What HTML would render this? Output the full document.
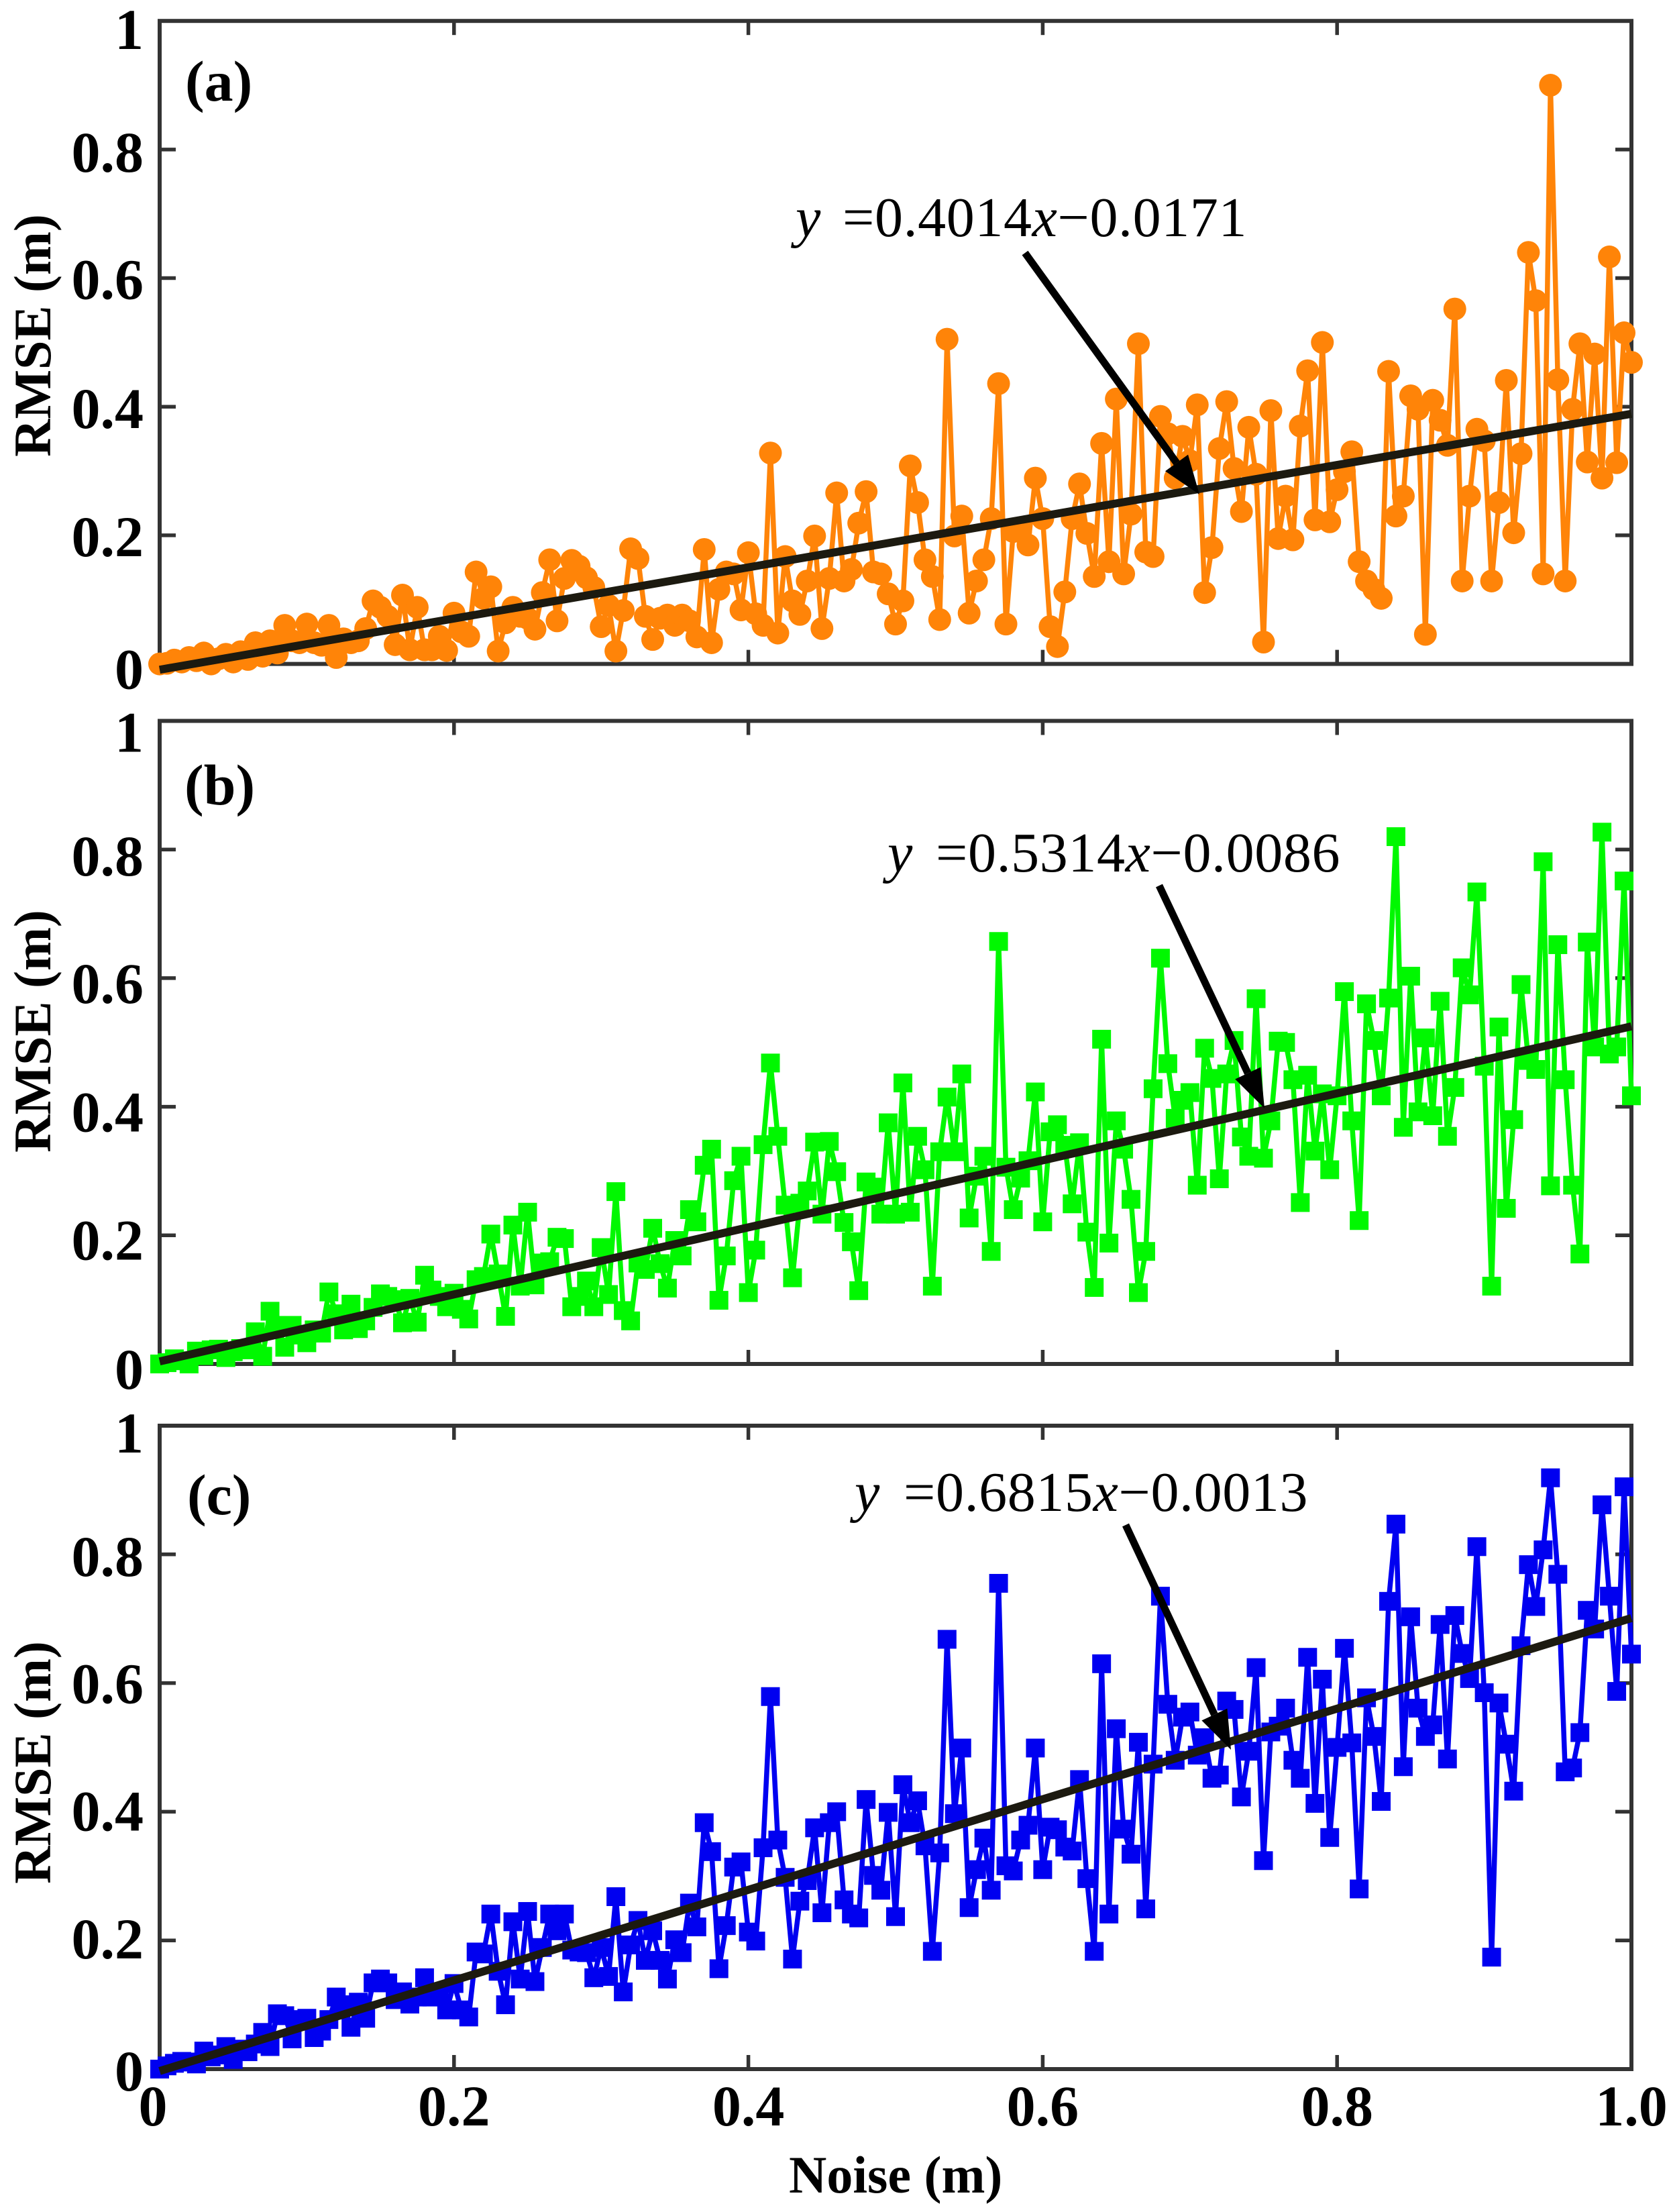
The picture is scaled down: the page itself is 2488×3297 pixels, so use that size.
<!DOCTYPE html>
<html>
<head>
<meta charset="utf-8">
<title>RMSE vs Noise</title>
<style>
html,body{margin:0;padding:0;background:#fff;width:2488px;height:3297px;overflow:hidden}
svg{display:block}
text{font-family:"Liberation Serif",serif;fill:#000}
.b{font-weight:bold}
</style>
</head>
<body>
<svg id="figure" xmlns="http://www.w3.org/2000/svg" width="2488" height="3297" viewBox="0 0 2488 3297"></svg>
<script>
const noiseStep = 0.005;
const xTicks = [0, 0.2, 0.4, 0.6, 0.8, 1.0];
const xTickLabels = ["0", "0.2", "0.4", "0.6", "0.8", "1.0"];
const yTicks = [0, 0.2, 0.4, 0.6, 0.8, 1];
const yTickLabels = ["0", "0.2", "0.4", "0.6", "0.8", "1"];

const rmseA = [
0,.001,.006,.003,.010,.005,.017,0,.008,.015,.003,.019,.007,.033,.012,.036,.017,.060,.036,.033,
.062,.033,.029,.060,.010,.039,.033,.036,.055,.098,.088,.074,.030,.107,.022,.088,.022,.022,.043,.021,
.079,.050,.043,.143,.102,.120,.020,.064,.088,.074,.071,.054,.111,.162,.067,.133,.161,.152,.134,.119,
.058,.091,.020,.083,.179,.164,.074,.038,.071,.076,.060,.076,.067,.042,.178,.033,.116,.143,.140,.084,
.173,.078,.060,.328,.048,.167,.098,.077,.129,.199,.055,.133,.266,.129,.147,.219,.268,.143,.140,.109,
.062,.098,.308,.251,.162,.136,.069,.505,.199,.230,.079,.129,.162,.226,.436,.062,.206,.206,.185,.289,
.226,.058,.027,.112,.226,.280,.203,.136,.343,.159,.412,.140,.233,.498,.174,.167,.385,.358,.289,.354,
.316,.403,.111,.181,.335,.408,.304,.237,.368,.295,.034,.394,.195,.261,.193,.370,.456,.224,.500,.221,
.271,.299,.330,.159,.129,.116,.102,.455,.230,.261,.417,.396,.046,.410,.379,.340,.552,.129,.261,.365,
.347,.129,.251,.441,.204,.327,.640,.565,.140,.900,.442,.129,.396,.498,.314,.482,.289,.633,.313,.515,.469];

const rmseB = [
0,.002,.008,.005,0,.020,.013,.022,.023,.010,.019,.024,.022,.050,.012,.082,.060,.026,.060,.045,
.033,.053,.048,.112,.078,.053,.093,.055,.067,.088,.109,.105,.100,.064,.102,.065,.138,.115,.105,.089,
.110,.085,.070,.131,.136,.202,.140,.074,.216,.121,.236,.123,.157,.159,.197,.195,.089,.105,.129,.089,
.181,.108,.268,.083,.067,.157,.147,.211,.156,.118,.192,.168,.240,.221,.309,.334,.099,.168,.285,.323,
.111,.177,.341,.468,.354,.247,.134,.250,.269,.345,.233,.346,.299,.220,.190,.114,.283,.275,.233,.375,
.233,.437,.236,.354,.302,.121,.330,.415,.330,.451,.227,.292,.323,.175,.657,.306,.240,.289,.316,.423,
.221,.361,.372,.340,.249,.344,.205,.119,.505,.188,.378,.334,.256,.111,.175,.428,.631,.467,.382,.410,
.422,.278,.491,.444,.288,.451,.503,.353,.323,.568,.320,.378,.502,.500,.442,.251,.449,.331,.420,.302,
.417,.579,.378,.223,.560,.503,.417,.569,.820,.368,.603,.392,.507,.386,.564,.354,.430,.616,.574,.734,
.463,.121,.524,.242,.380,.590,.472,.458,.781,.277,.652,.442,.278,.171,.656,.493,.827,.482,.493,.751,.417];

const rmseC = [
0,.005,.009,.012,.011,.008,.028,.019,.022,.035,.015,.031,.027,.039,.057,.035,.086,.083,.047,.077,
.079,.049,.059,.077,.112,.100,.065,.104,.079,.134,.140,.134,.108,.120,.101,.112,.142,.112,.120,.092,
.133,.092,.081,.182,.179,.241,.152,.100,.229,.140,.245,.136,.189,.241,.215,.241,.185,.182,.181,.142,
.189,.144,.268,.120,.193,.231,.169,.215,.169,.140,.201,.181,.258,.221,.383,.338,.156,.223,.314,.322,
.213,.199,.344,.579,.356,.298,.171,.261,.293,.375,.243,.383,.400,.263,.241,.235,.419,.301,.278,.399,
.237,.442,.383,.417,.347,.183,.336,.668,.397,.499,.251,.310,.359,.278,.755,.316,.308,.356,.379,.499,
.310,.376,.372,.345,.339,.450,.296,.183,.630,.241,.529,.373,.334,.508,.249,.474,.735,.567,.480,.547,
.555,.488,.515,.452,.457,.572,.559,.423,.494,.624,.324,.524,.533,.561,.480,.452,.640,.413,.606,.360,
.500,.654,.507,.280,.577,.517,.416,.727,.847,.470,.703,.561,.517,.535,.691,.482,.705,.646,.607,.812,
.585,.174,.569,.505,.432,.658,.784,.719,.807,.919,.769,.462,.468,.523,.713,.684,.877,.735,.587,.905,.645];

const fitEndsA = [-0.009, 0.389];
const fitEndsB = [0.004, 0.525];
const fitEndsC = [-0.003, 0.701];

const svg = document.getElementById('figure');
const NS = 'http://www.w3.org/2000/svg';
const X0 = 238, X1 = 2432;
function xScale(v){ return X0 + (X1 - X0) * v; }

function el(tag, parent, attrs, txt){
  const e = document.createElementNS(NS, tag);
  for (const k in attrs) e.setAttribute(k, attrs[k]);
  if (txt !== undefined) e.textContent = txt;
  parent.appendChild(e);
  return e;
}

const panels = [
  {id:'a', top:31.2, bottom:989.6, values:rmseA, fit:fitEndsA, color:'#ff8408', marker:'circle',
   letter:'(a)', letterX:276, letterY:150, dy:[37,31,32,31,33,42], ylabelY:500,
   eq:'=0.4014', eqTail:'\u22120.0171', eqYX:1186, eqX:1256, eqY:352,
   arrow:[1528,377,1788,737]},
  {id:'b', top:1074.5, bottom:2033, values:rmseB, fit:fitEndsB, color:'#00f800', marker:'square',
   letter:'(b)', letterX:275, letterY:1199, dy:[37,36,37,37,39,46], ylabelY:1537,
   eq:'=0.5314', eqTail:'\u22120.0086', eqYX:1323, eqX:1395, eqY:1299,
   arrow:[1728,1320,1885,1652]},
  {id:'c', top:2125, bottom:3084, values:rmseC, fit:fitEndsC, color:'#0000f0', marker:'square',
   letter:'(c)', letterX:279, letterY:2257, dy:[32,27,28,30,32,40], ylabelY:2627,
   eq:'=0.6815', eqTail:'\u22120.0013', eqYX:1274, eqX:1347, eqY:2252,
   arrow:[1678,2273,1835,2608]}
];

panels.forEach(function(p){
  const yScale = function(v){ return p.bottom - (p.bottom - p.top) * v; };
  const g = el('g', svg, {});
  
  

  const frame = el('rect', g, {x:X0, y:p.top, width:X1-X0, height:p.bottom-p.top, fill:'none', stroke:'#333', 'stroke-width':6});
  
  

  const tickGroup = el('g', g, {stroke:'#333', 'stroke-width':5.5});
  
  
  xTicks.forEach(function(t){
    if (t <= 0 || t >= 1) return;
    const x = xScale(t);
    el('line', tickGroup, {x1:x, x2:x, y1:p.top, y2:p.top+21});
    el('line', tickGroup, {x1:x, x2:x, y1:p.bottom, y2:p.bottom-21});
  });
  yTicks.forEach(function(t){
    if (t <= 0 || t >= 1) return;
    const y = yScale(t);
    el('line', tickGroup, {x1:X0, x2:X0+24, y1:y, y2:y});
    el('line', tickGroup, {x1:X1, x2:X1-24, y1:y, y2:y});
  });

  yTicks.forEach(function(t, i){
    const lab = el('text', g, {x:214, y:yScale(t)+p.dy[i], 'text-anchor':'end', 'font-size':86, 'class':'b'}, yTickLabels[i]);
    
    
  });

  const yt = el('text', g, {x:0, y:0, 'text-anchor':'middle', 'font-size':78, 'class':'b',
    transform:'translate(75,' + p.ylabelY + ') rotate(-90)'}, 'RMSE (m)');
  
  

  const pts = p.values.map(function(v, i){ return xScale(i * noiseStep).toFixed(1) + ',' + yScale(v).toFixed(1); }).join(' ');
  const line = el('polyline', g, {points:pts, fill:'none', stroke:p.color, 'stroke-width':7.5, 'stroke-linejoin':'round'});
  
  

  const markers = el('g', g, {fill:p.color});
  
  
  p.values.forEach(function(v, i){
    const x = xScale(i * noiseStep), y = yScale(v);
    let m;
    if (p.marker === 'circle') {
      m = el('circle', markers, {cx:x, cy:y, r:17});
    } else {
      m = el('rect', markers, {x:x-14, y:y-14, width:28, height:28});
    }
    
    
  });

  const fit = el('line', g, {x1:xScale(0), x2:xScale(1), y1:yScale(p.fit[0]), y2:yScale(p.fit[1]), stroke:'#1c1a10', 'stroke-width':12});
  
  

  const a = p.arrow;
  const dx = a[2]-a[0], dyy = a[3]-a[1], len = Math.sqrt(dx*dx+dyy*dyy);
  const ux = dx/len, uy = dyy/len, hl = 58, hw = 21;
  const bx = a[2]-ux*hl, by = a[3]-uy*hl;
  const shaft = el('line', g, {x1:a[0], y1:a[1], x2:bx, y2:by, stroke:'#000', 'stroke-width':11});
  
  
  const head = el('polygon', g, {points:a[2]+','+a[3]+' '+(bx-uy*hw)+','+(by+ux*hw)+' '+(bx+uy*hw)+','+(by-ux*hw), fill:'#000'});
  
  

  const letter = el('text', g, {x:p.letterX, y:p.letterY, 'font-size':86, 'class':'b'}, p.letter);
  
  

  const ey = el('text', g, {x:p.eqYX, y:p.eqY, 'font-size':84, 'font-style':'italic'}, 'y');
  
  
  const eq = el('text', g, {x:p.eqX, y:p.eqY, 'font-size':84, 'letter-spacing':0.6});
  
  
  el('tspan', eq, {}, p.eq);
  el('tspan', eq, {'font-style':'italic'}, 'x');
  el('tspan', eq, {}, p.eqTail);
});

xTicks.forEach(function(t, i){
  const shift = i === 0 ? -10 : 0;
  const lab = el('text', svg, {x:xScale(t)+shift, y:3168, 'text-anchor':'middle', 'font-size':86, 'class':'b'}, xTickLabels[i]);
  
  
});
const xt = el('text', svg, {x:1176, y:3268, 'font-size':78, 'class':'b'}, 'Noise (m)');


</script>
</body>
</html>
